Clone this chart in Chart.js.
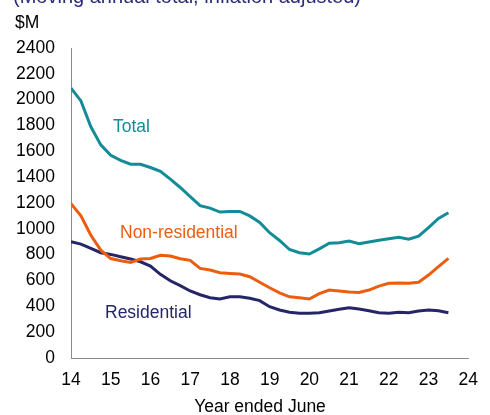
<!DOCTYPE html>
<html>
<head>
<meta charset="utf-8">
<script src="https://cdn.jsdelivr.net/npm/chart.js@4/dist/chart.umd.min.js"></script>
<style>
    html, body { margin: 0; padding: 0; background: #fff; }
    #wrap { position: relative; width: 490px; height: 415px; }
</style>
</head>
<body>
<div id="wrap"><canvas id="chartInversion" width="490" height="415"></canvas></div>
<script>
// years ended June, quarterly
const trimestres = [
    14, 14.25, 14.5, 14.75, 15, 15.25, 15.5, 15.75, 16, 16.25,
    16.5, 16.75, 17, 17.25, 17.5, 17.75, 18, 18.25, 18.5, 18.75,
    19, 19.25, 19.5, 19.75, 20, 20.25, 20.5, 20.75, 21, 21.25,
    21.5, 21.75, 22, 22.25, 22.5, 22.75, 23, 23.25, 23.5
];

const total = [
    2090, 1990, 1790, 1650, 1570, 1530, 1500, 1500, 1475, 1445,
    1385, 1320, 1250, 1180, 1160, 1130, 1135, 1135, 1100, 1050,
    970, 910, 840, 815, 805, 845, 888, 893, 905, 885,
    898, 911, 923, 934, 920, 944, 1010, 1080, 1125
];

const noResidencial = [
    1195, 1100, 950, 835, 770, 753, 740, 766, 771, 795,
    789, 768, 756, 694, 681, 660, 655, 650, 629, 586,
    544, 505, 474, 467, 457, 498, 526, 519, 511, 508,
    526, 557, 578, 580, 578, 586, 642, 707, 771
];

const residencial = [
    900, 882, 849, 815, 802, 784, 766, 745, 712, 648,
    598, 560, 519, 490, 467, 457, 474, 474, 462, 444,
    397, 372, 354, 346, 346, 351, 364, 377, 389, 379,
    366, 351, 346, 354, 351, 364, 372, 366, 351
];

const ticksY = [0, 200, 400, 600, 800, 1000, 1200, 1400, 1600, 1800, 2000, 2200, 2400];
const ticksX = [14, 15, 16, 17, 18, 19, 20, 21, 22, 23, 24];

const FUENTE = '"Liberation Sans", Arial, sans-serif';
const colores = {
    total: '#138c97',
    noRes: '#ec5e0e',
    res: '#252568'
};

function serie(valores) {
    return trimestres.map((x, i) => ({ x, y: valores[i] }));
}

const textosPlugin = {
    id: 'textos',
    afterDraw(chart) {
        const ctx = chart.ctx;
        ctx.save();
        ctx.textBaseline = 'alphabetic';
        ctx.textAlign = 'left';

        // subtitle, cut off by the top edge
        ctx.font = '20px ' + FUENTE;
        ctx.fillStyle = '#2b2b78';
        ctx.fillText('(Moving annual total, inflation adjusted)', 13, 3);

        ctx.font = '17.5px ' + FUENTE;
        ctx.fillStyle = '#000';
        ctx.fillText('$M', 15, 28);

        ctx.textAlign = 'center';
        ctx.fillText('Year ended June', 260, 412);

        ctx.textAlign = 'left';
        ctx.fillStyle = colores.total;
        ctx.fillText('Total', 113, 132);
        ctx.fillStyle = colores.noRes;
        ctx.fillText('Non-residential', 120, 238);
        ctx.fillStyle = colores.res;
        ctx.fillText('Residential', 105, 318);
        ctx.restore();
    }
};

const canvas = document.getElementById('chartInversion');

window.chartInversion = new Chart(canvas, {
    type: 'line',
    data: {
        datasets: [
            { label: 'Total', data: serie(total), borderColor: colores.total },
            { label: 'Non-residential', data: serie(noResidencial), borderColor: colores.noRes },
            { label: 'Residential', data: serie(residencial), borderColor: colores.res }
        ]
    },
    options: {
        responsive: false,
        animation: false,
        devicePixelRatio: 1,
        layout: { padding: { top: 48, right: 10, left: 0, bottom: 0 } },
        elements: {
            line: { borderWidth: 3, tension: 0, fill: false },
            point: { radius: 0 }
        },
        plugins: {
            legend: { display: false },
            tooltip: { enabled: false }
        },
        scales: {
            x: {
                type: 'linear',
                min: 14,
                max: 24,
                afterBuildTicks: axis => { axis.ticks = ticksX.map(value => ({ value })); },
                afterFit: axis => { axis.height = 57; },
                grid: { display: false, drawTicks: false },
                border: { display: true, color: '#8a8a8a', width: 1 },
                ticks: {
                    color: '#000',
                    padding: 12,
                    maxRotation: 0,
                    callback: v => String(v),
                    font: { family: FUENTE, size: 17.5 }
                }
            },
            y: {
                min: 0,
                max: 2400,
                afterBuildTicks: axis => { axis.ticks = ticksY.map(value => ({ value })); },
                afterFit: axis => { axis.width = 71; },
                grid: { display: false, drawTicks: false },
                border: { display: true, color: '#8a8a8a', width: 1 },
                ticks: {
                    color: '#000',
                    padding: 16,
                    callback: v => String(v),
                    font: { family: FUENTE, size: 17.5 }
                }
            }
        }
    },
    plugins: [textosPlugin]
});
</script>
</body>
</html>
